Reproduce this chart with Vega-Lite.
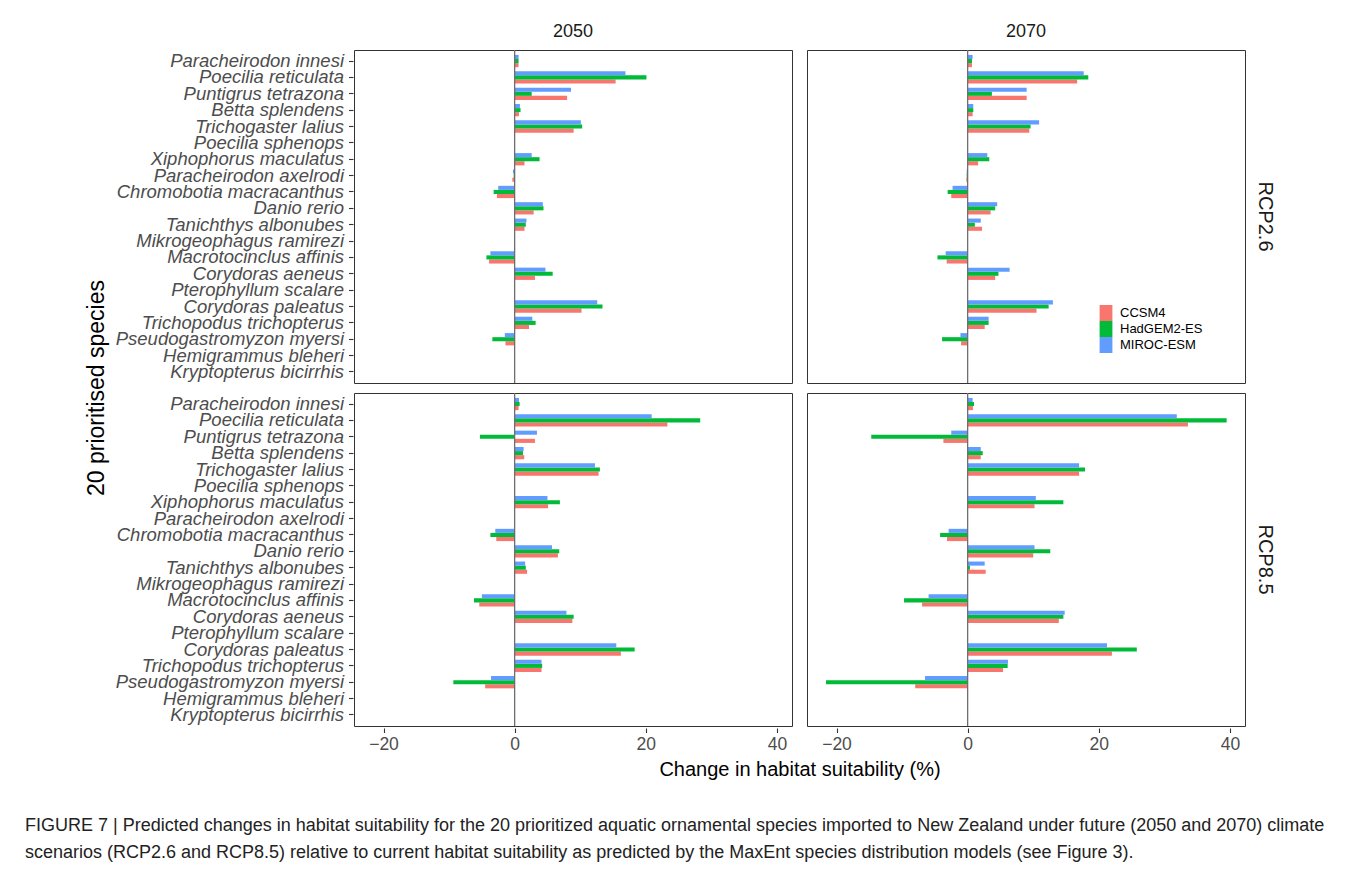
{
  "$schema": "https://vega.github.io/schema/vega-lite/v6.json",
  "padding": {"left": 25, "top": 23, "right": 10, "bottom": 5},
  "background": "white",
  "title": {
    "text": ["FIGURE 7 | Predicted changes in habitat suitability for the 20 prioritized aquatic ornamental species imported to New Zealand under future (2050 and 2070) climate", "scenarios (RCP2.6 and RCP8.5) relative to current habitat suitability as predicted by the MaxEnt species distribution models (see Figure 3)."],
    "orient": "bottom",
    "anchor": "start",
    "frame": "bounds",
    "font": "Liberation Sans",
    "fontSize": 18,
    "fontWeight": "normal",
    "color": "#222222",
    "lineHeight": 27,
    "offset": 37,
    "dx": -61
  },
  "data": {"values": [
    {"s":"Paracheirodon innesi","y":"2050","r":"RCP2.6","C":0.6,"H":0.6,"M":0.6},
    {"s":"Poecilia reticulata","y":"2050","r":"RCP2.6","C":15.4,"H":20.1,"M":16.9},
    {"s":"Puntigrus tetrazona","y":"2050","r":"RCP2.6","C":8.0,"H":2.6,"M":8.6},
    {"s":"Betta splendens","y":"2050","r":"RCP2.6","C":0.66,"H":0.9,"M":0.8},
    {"s":"Trichogaster lalius","y":"2050","r":"RCP2.6","C":9.0,"H":10.3,"M":10.1},
    {"s":"Poecilia sphenops","y":"2050","r":"RCP2.6","C":0,"H":0,"M":0},
    {"s":"Xiphophorus maculatus","y":"2050","r":"RCP2.6","C":1.5,"H":3.8,"M":2.6},
    {"s":"Paracheirodon axelrodi","y":"2050","r":"RCP2.6","C":-0.35,"H":-0.15,"M":-0.25},
    {"s":"Chromobotia macracanthus","y":"2050","r":"RCP2.6","C":-2.7,"H":-3.2,"M":-2.5},
    {"s":"Danio rerio","y":"2050","r":"RCP2.6","C":2.9,"H":4.4,"M":4.3},
    {"s":"Tanichthys albonubes","y":"2050","r":"RCP2.6","C":1.5,"H":1.7,"M":1.8},
    {"s":"Mikrogeophagus ramirezi","y":"2050","r":"RCP2.6","C":0,"H":0,"M":0},
    {"s":"Macrotocinclus affinis","y":"2050","r":"RCP2.6","C":-3.9,"H":-4.3,"M":-3.7},
    {"s":"Corydoras aeneus","y":"2050","r":"RCP2.6","C":3.1,"H":5.8,"M":4.7},
    {"s":"Pterophyllum scalare","y":"2050","r":"RCP2.6","C":0,"H":0,"M":0},
    {"s":"Corydoras paleatus","y":"2050","r":"RCP2.6","C":10.2,"H":13.4,"M":12.6},
    {"s":"Trichopodus trichopterus","y":"2050","r":"RCP2.6","C":2.2,"H":3.2,"M":2.7},
    {"s":"Pseudogastromyzon myersi","y":"2050","r":"RCP2.6","C":-1.4,"H":-3.4,"M":-1.5},
    {"s":"Hemigrammus bleheri","y":"2050","r":"RCP2.6","C":0,"H":0,"M":0},
    {"s":"Kryptopterus bicirrhis","y":"2050","r":"RCP2.6","C":0,"H":0,"M":0},

    {"s":"Paracheirodon innesi","y":"2070","r":"RCP2.6","C":0.66,"H":0.66,"M":0.76},
    {"s":"Poecilia reticulata","y":"2070","r":"RCP2.6","C":16.7,"H":18.4,"M":17.7},
    {"s":"Puntigrus tetrazona","y":"2070","r":"RCP2.6","C":9.0,"H":3.7,"M":9.0},
    {"s":"Betta splendens","y":"2070","r":"RCP2.6","C":0.76,"H":0.86,"M":0.86},
    {"s":"Trichogaster lalius","y":"2070","r":"RCP2.6","C":9.4,"H":9.6,"M":10.9},
    {"s":"Poecilia sphenops","y":"2070","r":"RCP2.6","C":0,"H":0,"M":0},
    {"s":"Xiphophorus maculatus","y":"2070","r":"RCP2.6","C":1.6,"H":3.3,"M":3.0},
    {"s":"Paracheirodon axelrodi","y":"2070","r":"RCP2.6","C":-0.2,"H":-0.15,"M":-0.15},
    {"s":"Chromobotia macracanthus","y":"2070","r":"RCP2.6","C":-2.5,"H":-3.05,"M":-2.3},
    {"s":"Danio rerio","y":"2070","r":"RCP2.6","C":3.5,"H":4.2,"M":4.5},
    {"s":"Tanichthys albonubes","y":"2070","r":"RCP2.6","C":2.2,"H":1.1,"M":2.0},
    {"s":"Mikrogeophagus ramirezi","y":"2070","r":"RCP2.6","C":0,"H":0,"M":0},
    {"s":"Macrotocinclus affinis","y":"2070","r":"RCP2.6","C":-3.2,"H":-4.6,"M":-3.35},
    {"s":"Corydoras aeneus","y":"2070","r":"RCP2.6","C":4.2,"H":4.7,"M":6.4},
    {"s":"Pterophyllum scalare","y":"2070","r":"RCP2.6","C":0,"H":0,"M":0},
    {"s":"Corydoras paleatus","y":"2070","r":"RCP2.6","C":10.5,"H":12.35,"M":13.0},
    {"s":"Trichopodus trichopterus","y":"2070","r":"RCP2.6","C":2.6,"H":3.2,"M":3.2},
    {"s":"Pseudogastromyzon myersi","y":"2070","r":"RCP2.6","C":-1.0,"H":-3.9,"M":-1.1},
    {"s":"Hemigrammus bleheri","y":"2070","r":"RCP2.6","C":0,"H":0,"M":0},
    {"s":"Kryptopterus bicirrhis","y":"2070","r":"RCP2.6","C":0,"H":0,"M":0},

    {"s":"Paracheirodon innesi","y":"2050","r":"RCP8.5","C":0.6,"H":0.76,"M":0.66},
    {"s":"Poecilia reticulata","y":"2050","r":"RCP8.5","C":23.3,"H":28.3,"M":20.9},
    {"s":"Puntigrus tetrazona","y":"2050","r":"RCP8.5","C":3.1,"H":-5.3,"M":3.4},
    {"s":"Betta splendens","y":"2050","r":"RCP8.5","C":1.47,"H":1.27,"M":1.37},
    {"s":"Trichogaster lalius","y":"2050","r":"RCP8.5","C":12.8,"H":13.0,"M":12.25},
    {"s":"Poecilia sphenops","y":"2050","r":"RCP8.5","C":0,"H":0,"M":0},
    {"s":"Xiphophorus maculatus","y":"2050","r":"RCP8.5","C":5.1,"H":6.9,"M":5.0},
    {"s":"Paracheirodon axelrodi","y":"2050","r":"RCP8.5","C":0,"H":0,"M":0},
    {"s":"Chromobotia macracanthus","y":"2050","r":"RCP8.5","C":-2.8,"H":-3.7,"M":-2.95},
    {"s":"Danio rerio","y":"2050","r":"RCP8.5","C":6.6,"H":6.8,"M":5.7},
    {"s":"Tanichthys albonubes","y":"2050","r":"RCP8.5","C":1.9,"H":1.7,"M":1.6},
    {"s":"Mikrogeophagus ramirezi","y":"2050","r":"RCP8.5","C":0,"H":0,"M":0},
    {"s":"Macrotocinclus affinis","y":"2050","r":"RCP8.5","C":-5.4,"H":-6.2,"M":-5.0},
    {"s":"Corydoras aeneus","y":"2050","r":"RCP8.5","C":8.8,"H":9.0,"M":7.9},
    {"s":"Pterophyllum scalare","y":"2050","r":"RCP8.5","C":0,"H":0,"M":0},
    {"s":"Corydoras paleatus","y":"2050","r":"RCP8.5","C":16.2,"H":18.3,"M":15.5},
    {"s":"Trichopodus trichopterus","y":"2050","r":"RCP8.5","C":4.1,"H":4.2,"M":4.1},
    {"s":"Pseudogastromyzon myersi","y":"2050","r":"RCP8.5","C":-4.5,"H":-9.35,"M":-3.6},
    {"s":"Hemigrammus bleheri","y":"2050","r":"RCP8.5","C":0,"H":0,"M":0},
    {"s":"Kryptopterus bicirrhis","y":"2050","r":"RCP8.5","C":0,"H":0,"M":0},

    {"s":"Paracheirodon innesi","y":"2070","r":"RCP8.5","C":0.8,"H":0.97,"M":0.76},
    {"s":"Poecilia reticulata","y":"2070","r":"RCP8.5","C":33.6,"H":39.5,"M":31.9},
    {"s":"Puntigrus tetrazona","y":"2070","r":"RCP8.5","C":-3.7,"H":-14.7,"M":-2.5},
    {"s":"Betta splendens","y":"2070","r":"RCP8.5","C":2.0,"H":2.3,"M":2.0},
    {"s":"Trichogaster lalius","y":"2070","r":"RCP8.5","C":17.0,"H":17.9,"M":17.0},
    {"s":"Poecilia sphenops","y":"2070","r":"RCP8.5","C":0,"H":0,"M":0},
    {"s":"Xiphophorus maculatus","y":"2070","r":"RCP8.5","C":10.2,"H":14.6,"M":10.4},
    {"s":"Paracheirodon axelrodi","y":"2070","r":"RCP8.5","C":0,"H":0,"M":0},
    {"s":"Chromobotia macracanthus","y":"2070","r":"RCP8.5","C":-3.15,"H":-4.2,"M":-2.9},
    {"s":"Danio rerio","y":"2070","r":"RCP8.5","C":10.0,"H":12.6,"M":10.2},
    {"s":"Tanichthys albonubes","y":"2070","r":"RCP8.5","C":2.75,"H":0.35,"M":2.6},
    {"s":"Mikrogeophagus ramirezi","y":"2070","r":"RCP8.5","C":0,"H":0,"M":0},
    {"s":"Macrotocinclus affinis","y":"2070","r":"RCP8.5","C":-6.95,"H":-9.7,"M":-5.95},
    {"s":"Corydoras aeneus","y":"2070","r":"RCP8.5","C":13.9,"H":14.6,"M":14.8},
    {"s":"Pterophyllum scalare","y":"2070","r":"RCP8.5","C":0,"H":0,"M":0},
    {"s":"Corydoras paleatus","y":"2070","r":"RCP8.5","C":22.0,"H":25.8,"M":21.25},
    {"s":"Trichopodus trichopterus","y":"2070","r":"RCP8.5","C":5.4,"H":6.1,"M":6.15},
    {"s":"Pseudogastromyzon myersi","y":"2070","r":"RCP8.5","C":-8.0,"H":-21.6,"M":-6.5},
    {"s":"Hemigrammus bleheri","y":"2070","r":"RCP8.5","C":0,"H":0,"M":0},
    {"s":"Kryptopterus bicirrhis","y":"2070","r":"RCP8.5","C":0,"H":0,"M":0}
  ]},
  "transform": [
    {"fold": ["C", "H", "M"], "as": ["key", "value"]},
    {"lookup": "key", "from": {"data": {"values": [
      {"key": "C", "model": "CCSM4"},
      {"key": "H", "model": "HadGEM2-ES"},
      {"key": "M", "model": "MIROC-ESM"}
    ]}, "key": "key", "fields": ["model"]}}
  ],
  "facet": {
    "row": {"field": "r", "type": "nominal", "title": "20 prioritised species",
      "header": {"labelOrient": "right", "labelAngle": 90, "labelFontSize": 20, "labelFont": "Liberation Sans", "labelColor": "#1a1a1a", "labelPadding": 9,
        "titleOrient": "left", "titleAngle": -90, "titleFontSize": 23, "titleFont": "Liberation Sans", "titleFontWeight": "normal", "titleColor": "#000000", "titlePadding": -27}},
    "column": {"field": "y", "type": "nominal", "title": "Change in habitat suitability (%)",
      "header": {"labelOrient": "top", "labelFontSize": 18, "labelFont": "Liberation Sans", "labelColor": "#1a1a1a", "labelPadding": 7,
        "titleOrient": "bottom", "titleFontSize": 20, "titleFont": "Liberation Sans", "titleFontWeight": "normal", "titleColor": "#000000", "titlePadding": -3}}
  },
  "spacing": {"row": 6, "column": 13},
  "spec": {
    "width": 438,
    "height": 333,
    "layer": [
      {
        "mark": {"type": "bar"},
        "encoding": {
          "y": {"field": "s", "type": "nominal",
            "sort": ["Paracheirodon innesi","Poecilia reticulata","Puntigrus tetrazona","Betta splendens","Trichogaster lalius","Poecilia sphenops","Xiphophorus maculatus","Paracheirodon axelrodi","Chromobotia macracanthus","Danio rerio","Tanichthys albonubes","Mikrogeophagus ramirezi","Macrotocinclus affinis","Corydoras aeneus","Pterophyllum scalare","Corydoras paleatus","Trichopodus trichopterus","Pseudogastromyzon myersi","Hemigrammus bleheri","Kryptopterus bicirrhis"],
            "scale": {"paddingInner": 0.25, "paddingOuter": 0.3},
            "axis": {"title": null, "labelFontStyle": "italic", "labelFontSize": 18.5, "labelOverlap": false, "labelLimit": 0, "labelPadding": 5}},
          "yOffset": {"field": "model", "type": "nominal", "sort": ["MIROC-ESM", "HadGEM2-ES", "CCSM4"], "scale": {"paddingInner": 0, "paddingOuter": 0}},
          "x": {"field": "value", "type": "quantitative",
            "scale": {"domain": [-24.5, 42.3], "nice": false, "zero": false},
            "axis": {"title": null, "values": [-20, 0, 20, 40], "labelFontSize": 17.5}},
          "color": {"field": "model", "type": "nominal",
            "scale": {"domain": ["CCSM4", "HadGEM2-ES", "MIROC-ESM"], "range": ["#F8766D", "#00BA38", "#619CFF"]},
            "legend": {"title": null, "orient": "none", "legendX": 744, "legendY": 255,
              "symbolType": "M-0.8,-1H0.8V1H-0.8Z", "symbolSize": 256, "symbolStrokeWidth": 0, "symbolOpacity": 1,
              "rowPadding": 0, "labelFontSize": 13, "labelFont": "Liberation Sans", "labelColor": "#000000", "labelOffset": 6}}
        }
      },
      {
        "transform": [{"aggregate": [{"op": "count", "as": "n"}]}],
        "mark": {"type": "rule", "color": "#6e6e6e", "strokeWidth": 1.3},
        "encoding": {"x": {"datum": 0}}
      }
    ]
  },
  "config": {
    "font": "Liberation Sans",
    "view": {"stroke": "#333333", "strokeWidth": 1},
    "axis": {"grid": false, "domain": false, "tickColor": "#333333", "tickSize": 4.5, "tickWidth": 1.1, "labelColor": "#4d4d4d", "labelPadding": 3, "titleColor": "#000000", "titleFontWeight": "normal", "labelFont": "Liberation Sans", "titleFont": "Liberation Sans"},
    "bar": {"stroke": null}
  }
}
